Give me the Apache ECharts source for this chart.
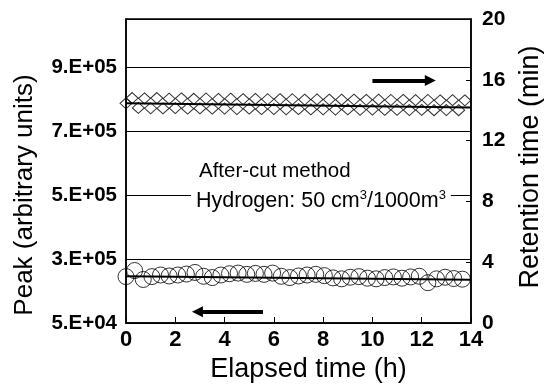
<!DOCTYPE html>
<html>
<head>
<meta charset="utf-8">
<script src="https://cdn.jsdelivr.net/npm/echarts@6/dist/echarts.min.js"></script>
<style>html,body{margin:0;padding:0;background:#fff}#c{width:544px;height:384px}</style>
</head>
<body>
<div id="c"></div>
<script>
// ---- data ----
var xTicks = [0, 2, 4, 6, 8, 10, 12, 14];
var leftTickValues = [100000, 300000, 500000, 700000, 900000];
var leftTickLabels = ['5.E+04', '3.E+05', '5.E+05', '7.E+05', '9.E+05'];
var rightTickValues = [0, 4, 8, 12, 16, 20];

// Retention time (diamonds, right axis)
var rtTime = [0,0.25,0.5,0.75,1,1.25,1.5,1.75,2,2.25,2.5,2.75,3,3.25,3.5,3.75,4,4.25,4.5,4.75,5,5.25,5.5,5.75,6,6.25,6.5,6.75,7,7.25,7.5,7.75,8,8.25,8.5,8.75,9,9.25,9.5,9.75,10,10.25,10.5,10.75,11,11.25,11.5,11.75,12,12.25,12.5,12.75,13,13.25,13.5,13.75];
var rtValue = [14.45,14.8,14.15,14.78,14.13,14.8,14.12,14.76,14.14,14.78,14.1,14.75,14.12,14.77,14.1,14.74,14.11,14.76,14.08,14.73,14.1,14.74,14.07,14.72,14.08,14.73,14.06,14.72,14.07,14.7,14.05,14.71,14.06,14.7,14.04,14.69,14.05,14.7,14.03,14.68,14.04,14.69,14.02,14.67,14.03,14.68,14.01,14.66,14.02,14.67,14.0,14.65,14.01,14.66,14.0,14.65];
var rtFitTime = [0, 14];
var rtFitValue = [14.45, 14.17];

// Peak area (circles, left axis)
var peakTime = [0,0.35,0.7,1.05,1.4,1.75,2.1,2.45,2.8,3.15,3.5,3.85,4.2,4.55,4.9,5.25,5.6,5.95,6.3,6.65,7,7.35,7.7,8.05,8.4,8.75,9.1,9.45,9.8,10.15,10.5,10.85,11.2,11.55,11.9,12.25,12.6,12.95,13.3,13.65];
var peakValue = [245000,264000,236000,245000,250000,247000,250000,253000,258000,246000,242000,250000,254000,256000,252000,255000,252000,256000,246000,242000,247000,250000,252000,248000,241000,238000,243000,245000,240000,238000,242000,244000,240000,244000,246000,226000,238000,243000,239000,237000];
var peakFitTime = [0, 14];
var peakFitValue = [246000, 235000];

var FONT = 'Liberation Sans, Arial, Helvetica, sans-serif';

function zip(a, b) { return a.map(function (v, i) { return [v, b[i]]; }); }

var chart = echarts.init(document.getElementById('c'), null, { renderer: 'canvas' });
chart.setOption({
  animation: false,
  backgroundColor: '#fff',
  grid: { left: 126, right: 73, top: 19, bottom: 61, outerBoundsMode: 'none', containLabel: false,
    show: true, borderColor: '#000', borderWidth: 1.5, backgroundColor: 'transparent' },
  xAxis: {
    type: 'value', min: 0, max: 14, interval: 2,
    name: 'Elapsed time (h)', nameLocation: 'middle', nameGap: 27,
    nameTextStyle: { fontFamily: FONT, fontSize: 27, color: '#000', padding: [0, 0, 0, 20] },
    axisLine: { show: true, lineStyle: { color: '#000', width: 1.5 } },
    axisTick: { show: true, inside: true, length: 6, lineStyle: { color: '#000', width: 1 } },
    axisLabel: { fontFamily: FONT, fontSize: 22, fontWeight: 'bold', color: '#000', margin: 6,
      formatter: function (v) { return xTicks.indexOf(v) >= 0 ? String(v) : ''; } },
    splitLine: { show: false }
  },
  yAxis: [{
    type: 'value', position: 'left', min: 100000, max: 1050000, interval: 100000,
    name: 'Peak (arbitrary units)', nameLocation: 'middle', nameGap: 88,
    nameTextStyle: { fontFamily: FONT, fontSize: 26, color: '#000', padding: [0, 48, 0, 0] },
    axisLine: { show: true, lineStyle: { color: '#000', width: 1.5 } },
    axisTick: { show: false },
    axisLabel: { fontFamily: FONT, fontSize: 20.5, fontWeight: 'bold', color: '#000', margin: 9,
      formatter: function (v) { var i = leftTickValues.indexOf(v); return i >= 0 ? leftTickLabels[i] : ''; } },
    splitLine: { show: true, lineStyle: { color: ['#000', 'rgba(0,0,0,0)'], width: 1.1 } }
  }, {
    type: 'value', position: 'right', min: 0, max: 20, interval: 4,
    name: 'Retention time (min)', nameLocation: 'middle', nameGap: 46,
    nameTextStyle: { fontFamily: FONT, fontSize: 27, color: '#000', padding: [0, 0, 0, 8] },
    axisLine: { show: true, lineStyle: { color: '#000', width: 1.5 } },
    axisTick: { show: true, inside: true, length: 5, lineStyle: { color: '#000', width: 1 } },
    axisLabel: { fontFamily: FONT, fontSize: 21, fontWeight: 'bold', color: '#000', margin: 11,
      formatter: function (v) { return rightTickValues.indexOf(v) >= 0 ? String(v) : ''; } },
    splitLine: { show: false }
  }],
  series: [{
    name: 'Retention time', type: 'scatter', yAxisIndex: 1,
    data: zip(rtTime, rtValue),
    symbol: 'diamond', symbolSize: [12, 11],
    itemStyle: { color: 'rgba(0,0,0,0)', borderColor: '#000', borderWidth: 1 },
    markLine: {
      silent: true, symbol: ['none', 'triangle'], symbolSize: [11, 11],
      label: { show: false },
      lineStyle: { color: '#000', width: 4, type: 'solid' },
      data: [[{ coord: [10.0, 15.95] }, { coord: [12.35, 15.95] }]]
    }
  }, {
    name: 'Retention fit', type: 'line', yAxisIndex: 1,
    data: zip(rtFitTime, rtFitValue), showSymbol: false, symbol: 'none',
    lineStyle: { color: '#000', width: 2 }
  }, {
    name: 'Peak', type: 'scatter', yAxisIndex: 0,
    data: zip(peakTime, peakValue),
    symbol: 'circle', symbolSize: 16,
    itemStyle: { color: 'rgba(0,0,0,0)', borderColor: '#000', borderWidth: 1 },
    markLine: {
      silent: true, symbol: ['none', 'triangle'], symbolSize: [11, 11],
      label: { show: false },
      lineStyle: { color: '#000', width: 4, type: 'solid' },
      data: [[{ coord: [5.56, 135000] }, { coord: [2.9, 135000] }]]
    }
  }, {
    name: 'Peak fit', type: 'line', yAxisIndex: 0,
    data: zip(peakFitTime, peakFitValue), showSymbol: false, symbol: 'none',
    lineStyle: { color: '#000', width: 2 }
  }],
  graphic: [{
    type: 'text', left: 199, top: 161,
    style: { text: 'After-cut method', font: '20.5px ' + FONT, fill: '#000' }
  }, {
    type: 'text', left: 191, top: 187, z: 100,
    style: {
      text: '{n|Hydrogen: 50 cm}{s|3}{n|/1000m}{s|3}',
      backgroundColor: '#fff', padding: [2, 5, 2, 5],
      rich: {
        n: { fontFamily: FONT, fontSize: 21.5, fill: '#000', color: '#000' },
        s: { fontFamily: FONT, fontSize: 13, fill: '#000', color: '#000', padding: [0, 0, 12, 0] }
      }
    }
  }]
});
</script>
</body>
</html>
